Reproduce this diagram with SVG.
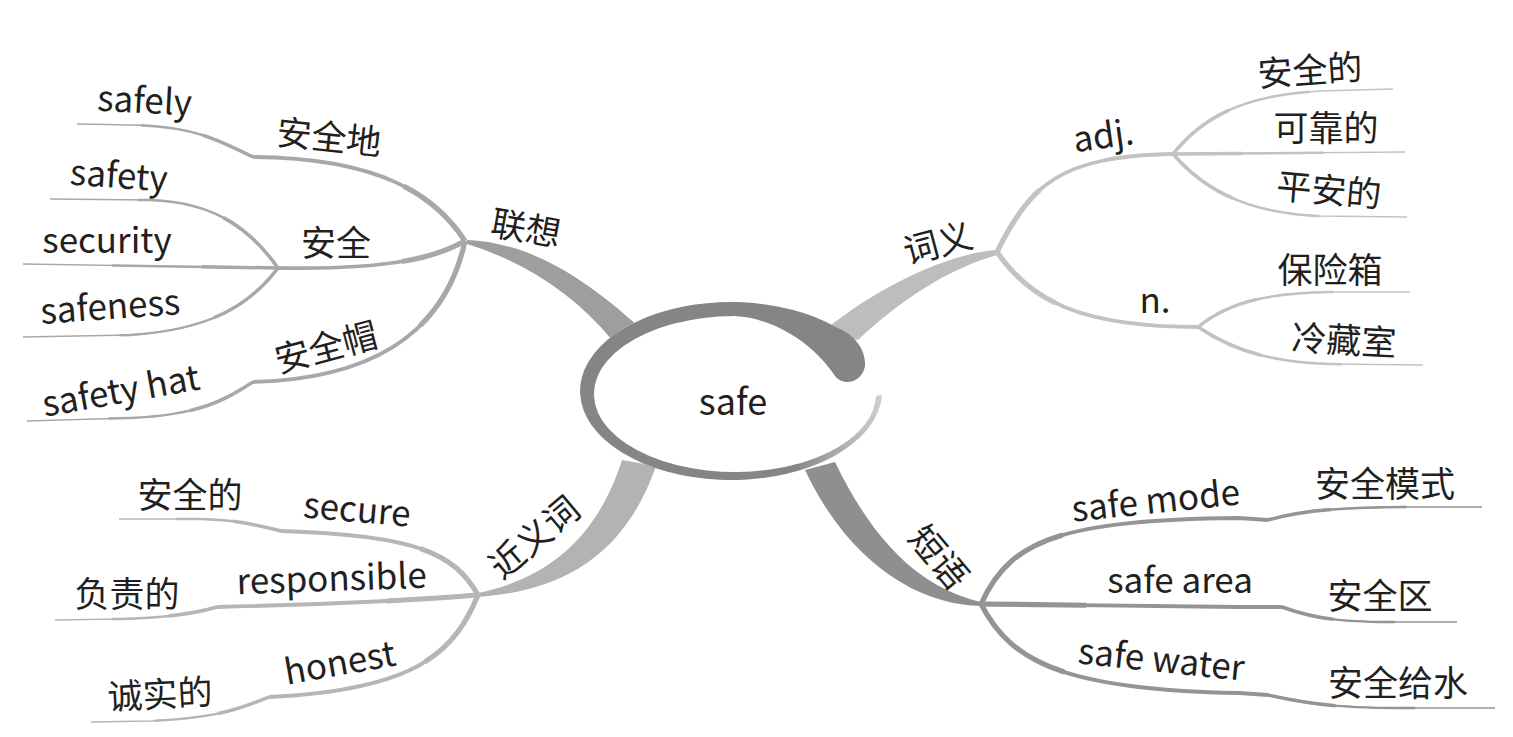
<svg xmlns="http://www.w3.org/2000/svg" xmlns:xlink="http://www.w3.org/1999/xlink" width="1513" height="737" viewBox="0 0 1513 737">
<style>
text{font-family:"Noto Sans CJK SC","Noto Sans",sans-serif;font-size:35px;fill:#231f20;text-anchor:middle}
.z{font-size:35px}
use,.ln{fill:none}
.ul{stroke:#a8a8a8}.ur{stroke:#c2c2c2}.ll{stroke:#b6b6b6}.lr{stroke:#949494}
.s1{stroke-width:3.8}.s2{stroke-width:5.2;stroke-dasharray:35 300}
.l1{stroke-width:1.4}.l2{stroke-width:2.5;stroke-dasharray:65 300}.l3{stroke-width:3.5;stroke-dasharray:30 300}
</style>
<defs>
<linearGradient id="sl" x1="800" y1="0" x2="882" y2="0" gradientUnits="userSpaceOnUse">
<stop offset="0" stop-color="#8d8d8d"/><stop offset="1" stop-color="#cfcfcf"/>
</linearGradient>
<path id="a1" pathLength="100" d="M465 241 C435 195 380 158 253 157"/>
<path id="a1l" pathLength="100" d="M253 157 C215 138 190 126 130 125 C110 124.5 95 124 77 124"/>
<path id="b1" pathLength="100" d="M465 241 C440 255 400 270 278 268"/>
<path id="b1a" pathLength="100" d="M278 268 C255 235 220 202 150 200 L50 199"/>
<path id="b1b" pathLength="100" d="M278 268 L23 264"/>
<path id="b1c" pathLength="100" d="M278 268 C250 305 210 330 130 335 L23 337"/>
<path id="c1" pathLength="100" d="M465 241 C450 310 400 378 253 382"/>
<path id="c1l" pathLength="100" d="M253 382 C225 400 200 415 130 418 L27 421"/>
<path id="a2" pathLength="100" d="M997 252 C1030 185 1060 156 1173 154"/>
<path id="b2" pathLength="100" d="M997 252 C1030 300 1080 327 1198 327"/>
<path id="a2a" pathLength="100" d="M1173 154 C1200 120 1240 95 1320 91 L1393 89"/>
<path id="a2b" pathLength="100" d="M1173 154 L1405 152"/>
<path id="a2c" pathLength="100" d="M1173 154 C1200 185 1240 213 1320 216 L1407 217"/>
<path id="b2a" pathLength="100" d="M1198 327 C1225 305 1260 293 1330 292 L1410 292"/>
<path id="b2b" pathLength="100" d="M1198 327 C1225 345 1260 362 1330 364 L1423 365"/>
<path id="a3" pathLength="100" d="M478 595 C455 555 420 535 281 531"/>
<path id="a3l" pathLength="100" d="M281 531 C260 526 240 520 200 519 L119 519"/>
<path id="b3" pathLength="100" d="M478 595 C440 598 380 603 217 607"/>
<path id="b3l" pathLength="100" d="M217 607 C200 612 170 618 120 619 L55 620"/>
<path id="c3" pathLength="100" d="M478 595 C455 650 420 690 269 697"/>
<path id="c3l" pathLength="100" d="M269 697 C245 707 220 718 150 721 L91 722"/>
<path id="a4" pathLength="100" d="M981 604 C1010 540 1060 520 1239 518 L1268 520"/>
<path id="a4l" pathLength="100" d="M1268 520 C1300 511 1330 508 1400 507 L1482 507"/>
<path id="b4" pathLength="100" d="M981 604 L1239 607 L1282 607"/>
<path id="b4l" pathLength="100" d="M1282 607 C1310 617 1330 621 1380 622 L1457 622"/>
<path id="c4" pathLength="100" d="M981 604 C1010 660 1060 690 1239 693 L1268 695"/>
<path id="c4l" pathLength="100" d="M1268 695 C1300 702 1330 708 1400 708 L1495 708"/>
</defs>

<g id="connectors">
<path fill="#9e9e9e" d="M467 240 C520 242 575 268 640 328 L612 340 C575 295 525 262 467 244 Z"/>
<path fill="#bdbdbd" d="M997 250 C950 253 880 285 825 330 L858 340 C900 300 950 268 997 255 Z"/>
<path fill="#b3b3b3" d="M478 593 C540 580 595 545 622 460 L656 466 C630 540 580 590 478 597 Z"/>
<path fill="#8f8f8f" d="M981 602 C930 590 880 555 835 462 L805 470 C850 565 920 605 981 606 Z"/>
<use href="#a1" class="ul s1"/><use href="#a1" class="ul s2"/>
<use href="#b1" class="ul s1"/><use href="#b1" class="ul s2"/>
<use href="#c1" class="ul s1"/><use href="#c1" class="ul s2"/>
<use href="#a2" class="ur s1"/><use href="#a2" class="ur s2"/>
<use href="#b2" class="ur s1"/><use href="#b2" class="ur s2"/>
<use href="#a3" class="ll s1"/><use href="#a3" class="ll s2"/>
<use href="#b3" class="ll s1"/><use href="#b3" class="ll s2"/>
<use href="#c3" class="ll s1"/><use href="#c3" class="ll s2"/>
<use href="#a4" class="lr s1"/><use href="#a4" class="lr s2"/>
<use href="#b4" class="lr s1"/><use href="#b4" class="lr s2"/>
<use href="#c4" class="lr s1"/><use href="#c4" class="lr s2"/>
<use href="#a1l" class="ul l1"/><use href="#a1l" class="ul l2"/><use href="#a1l" class="ul l3"/>
<use href="#b1a" class="ul l1"/><use href="#b1a" class="ul l2"/><use href="#b1a" class="ul l3"/>
<use href="#b1b" class="ul l1"/><use href="#b1b" class="ul l2"/><use href="#b1b" class="ul l3"/>
<use href="#b1c" class="ul l1"/><use href="#b1c" class="ul l2"/><use href="#b1c" class="ul l3"/>
<use href="#c1l" class="ul l1"/><use href="#c1l" class="ul l2"/><use href="#c1l" class="ul l3"/>
<use href="#a2a" class="ur l1"/><use href="#a2a" class="ur l2"/><use href="#a2a" class="ur l3"/>
<use href="#a2b" class="ur l1"/><use href="#a2b" class="ur l2"/><use href="#a2b" class="ur l3"/>
<use href="#a2c" class="ur l1"/><use href="#a2c" class="ur l2"/><use href="#a2c" class="ur l3"/>
<use href="#b2a" class="ur l1"/><use href="#b2a" class="ur l2"/><use href="#b2a" class="ur l3"/>
<use href="#b2b" class="ur l1"/><use href="#b2b" class="ur l2"/><use href="#b2b" class="ur l3"/>
<use href="#a3l" class="ll l1"/><use href="#a3l" class="ll l2"/><use href="#a3l" class="ll l3"/>
<use href="#b3l" class="ll l1"/><use href="#b3l" class="ll l2"/><use href="#b3l" class="ll l3"/>
<use href="#c3l" class="ll l1"/><use href="#c3l" class="ll l2"/><use href="#c3l" class="ll l3"/>
<use href="#a4l" class="lr l1"/><use href="#a4l" class="lr l2"/><use href="#a4l" class="lr l3"/>
<use href="#b4l" class="lr l1"/><use href="#b4l" class="lr l2"/><use href="#b4l" class="lr l3"/>
<use href="#c4l" class="lr l1"/><use href="#c4l" class="lr l2"/><use href="#c4l" class="lr l3"/>
</g>

<g id="center">
<ellipse cx="731" cy="391" rx="151" ry="89" fill="#fff"/>
<path fill="#858585" d="M837 327.6 A151 89 0 1 0 800 470.2 L800 463.2 A141 78 0 1 1 735 316 C775 318 815 345 835 376 C842 386 862 384 865 366 C866 350 855 335 837 327.6 Z"/>
<path fill="url(#sl)" d="M800 470.2 A151 89 0 0 0 882 395 L876 396 A141 78 0 0 1 800 463.2 Z"/>
<text x="733" y="415" style="font-size:36px">safe</text>
</g>

<g id="n-lianxiang"><text class="z" transform="translate(526 228) rotate(10)" y="13">联想</text></g>
<g id="n-anquandi"><text class="z" transform="translate(329 137) rotate(6)" y="13">安全地</text></g>
<g id="n-safely"><text transform="translate(144 113) rotate(3)">safely</text></g>
<g id="n-anquan"><text class="z" transform="translate(336 243)" y="13">安全</text></g>
<g id="n-safety"><text transform="translate(118 188) rotate(4)">safety</text></g>
<g id="n-security"><text transform="translate(107 253)">security</text></g>
<g id="n-safeness"><text transform="translate(111 319) rotate(-4)">safeness</text></g>
<g id="n-anquanmao"><text class="z" transform="translate(326 347) rotate(-15)" y="13">安全帽</text></g>
<g id="n-safetyhat"><text transform="translate(123 403) rotate(-10)">safety hat</text></g>

<g id="n-ciyi"><text class="z" transform="translate(938 243) rotate(-15)" y="13">词义</text></g>
<g id="n-adj"><text transform="translate(1105 148) rotate(-8)">adj.</text></g>
<g id="n-anquande1"><text class="z" transform="translate(1310 70) rotate(-4)" y="13">安全的</text></g>
<g id="n-kekaode"><text class="z" transform="translate(1326 128)" y="13">可靠的</text></g>
<g id="n-pinganade"><text class="z" transform="translate(1329 190) rotate(5)" y="13">平安的</text></g>
<g id="n-n"><text transform="translate(1155 313)">n.</text></g>
<g id="n-baoxianxiang"><text class="z" transform="translate(1330 270)" y="13">保险箱</text></g>
<g id="n-lengcangshi"><text class="z" transform="translate(1344 340) rotate(3)" y="13">冷藏室</text></g>

<g id="n-jinyici"><text class="z" transform="translate(534 537) rotate(-40)" y="13">近义词</text></g>
<g id="n-secure"><text transform="translate(356 522) rotate(5)">secure</text></g>
<g id="n-anquande2"><text class="z" transform="translate(190 495)" y="13">安全的</text></g>
<g id="n-responsible"><text transform="translate(332 591) rotate(-2)">responsible</text></g>
<g id="n-fuzede"><text class="z" transform="translate(127 594)" y="13">负责的</text></g>
<g id="n-honest"><text transform="translate(342 675) rotate(-10)">honest</text></g>
<g id="n-chengshide"><text class="z" transform="translate(160 694) rotate(-3)" y="13">诚实的</text></g>

<g id="n-duanyu"><text class="z" transform="translate(939 557) rotate(50)" y="13">短语</text></g>
<g id="n-safemode"><text transform="translate(1157 513) rotate(-6)">safe mode</text></g>
<g id="n-anquanmoshi"><text class="z" transform="translate(1385 484)" y="13">安全模式</text></g>
<g id="n-safearea"><text transform="translate(1180 593)">safe area</text></g>
<g id="n-anquanqu"><text class="z" transform="translate(1380 596)" y="13">安全区</text></g>
<g id="n-safewater"><text transform="translate(1160 672) rotate(6)">safe water</text></g>
<g id="n-anquangeishui"><text class="z" transform="translate(1398 683)" y="13">安全给水</text></g>
</svg>
